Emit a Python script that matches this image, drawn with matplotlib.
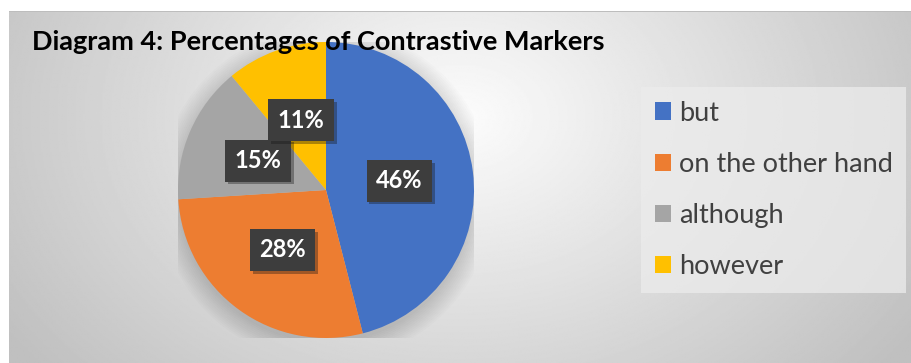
import matplotlib.pyplot as plt
import numpy as np
from matplotlib.patches import Rectangle
import matplotlib.patheffects as pe

# Data
labels = ['but', 'on the other hand', 'although', 'however']
shares = [46, 28, 15, 11]
colors = ['#4472C4', '#ED7D31', '#A5A5A5', '#FFC000']
title = 'Diagram 4: Percentages of Contrastive Markers'

plt.rcParams['font.family'] = ['Lato', 'DejaVu Sans']

W, H = 912, 363
fig = plt.figure(figsize=(W / 100, H / 100), dpi=100)
fig.patch.set_facecolor('white')

# Background with radial gradient (chart area)
bg = fig.add_axes([9 / W, 0, 1 - 9 / W, 1 - 12 / H])
bg.set_axis_off()
yy, xx = np.mgrid[0:1:300j, 0:1:600j]
d = np.sqrt(((xx - 0.5) / 0.8) ** 2 + ((yy - 0.3) / 1.5) ** 2)
g = np.clip(252 - 80 * d, 192, 252) / 255.0
bg.imshow(g, cmap='gray', vmin=0, vmax=1, aspect='auto', extent=[0, 1, 1, 0])
bg.set_xlim(0, 1)
bg.set_ylim(1, 0)
fig.add_artist(Rectangle((9 / W, 1 - 12 / H), 1, 0.002, transform=fig.transFigure,
                         color='#bdbdbd', lw=0))

# Pie
cx, cy, r = 326, 190, 148
ax = fig.add_axes([(cx - r) / W, 1 - (cy + r) / H, 2 * r / W, 2 * r / H])
ax.set_axis_off()

# soft shadow under the pie
for k in range(12):
    ax.add_patch(plt.Circle((0.0, -0.03), 1.0 + 0.012 * k, color='black',
                            alpha=0.012, lw=0))

wedges, _, autotexts = ax.pie(
    shares, colors=colors, startangle=90, counterclock=False,
    autopct='%1.0f%%', pctdistance=0.5,
    wedgeprops=dict(linewidth=0),
    textprops=dict(color='white', fontsize=17, fontweight='bold'))
for t in autotexts:
    t.set_bbox(dict(boxstyle='square,pad=0.4', facecolor='#3d3d3d',
                    edgecolor='none',
                    path_effects=[pe.SimplePatchShadow(offset=(2, -2), alpha=0.35),
                                  pe.Normal()]))
ax.set_xlim(-1, 1)
ax.set_ylim(-1, 1)

# Title
fig.text(32 / W, 1 - 42 / H, title, fontsize=19.5, fontweight='bold',
         color='black', va='center', ha='left')

# Legend
leg = fig.legend(wedges, labels, loc='upper left',
                 bbox_to_anchor=(641 / W, 1 - 87 / H),
                 fontsize=19.5, frameon=True, fancybox=False,
                 handlelength=0.6, handleheight=0.6, handletextpad=0.3,
                 labelspacing=0.97, borderpad=0.5, borderaxespad=0)
leg.get_frame().set_facecolor('#ececec')
leg.get_frame().set_alpha(0.75)
leg.get_frame().set_edgecolor('none')
for t in leg.get_texts():
    t.set_color('#404040')

fig.savefig('out.png', dpi=100)
